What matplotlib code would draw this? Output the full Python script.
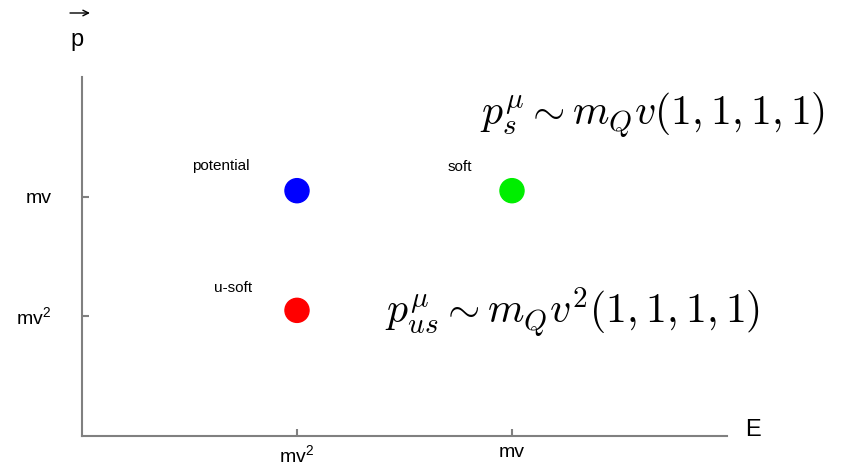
import matplotlib
matplotlib.use("Agg")
import matplotlib.pyplot as plt

# scale positions (arbitrary units, ticks at 1 and 2)
tick_pos = [1, 2]
x_tick_labels = [r"mv$^\mathregular{2}$", "mv"]
y_tick_labels = [r"mv$^\mathregular{2}$", "mv"]

# the three modes
mode_names = ["potential", "soft", "u-soft"]
mode_x = [1.0, 2.0, 1.0]
mode_y = [2.05, 2.05, 1.05]
mode_colors = ["#0000ff", "#00ee00", "#ff0000"]

plt.rcParams["font.family"] = ["Liberation Sans", "DejaVu Sans"]
plt.rcParams["mathtext.fontset"] = "cm"

fig = plt.figure(figsize=(8.44, 4.67), dpi=100)
ax = fig.add_axes([82 / 844, 31 / 467, 645 / 844, 359 / 467])

ax.scatter(mode_x, mode_y, s=300, c=mode_colors, zorder=3)

# name labels above/left of points
ax.text(0.647, 2.256, mode_names[0], fontsize=11, ha="center", va="center")
ax.text(1.758, 2.248, mode_names[1], fontsize=11, ha="center", va="center")
ax.text(0.702, 1.237, mode_names[2], fontsize=11, ha="center", va="center")

# scaling formulas
ax.text(1.851, 2.68, r"$p_s^\mu \sim m_Q v(1,1,1,1)$", fontsize=30,
        ha="left", va="center")
ax.text(1.409, 1.036, r"$p_{us}^\mu \sim m_Q v^2(1,1,1,1)$", fontsize=30,
        ha="left", va="center")

ax.set_xlim(0, 3)
ax.set_ylim(0, 3)
ax.set_xticks(tick_pos)
ax.set_xticklabels(x_tick_labels)
ax.set_yticks(tick_pos)
ax.set_yticklabels(y_tick_labels)

for side in ["top", "right"]:
    ax.spines[side].set_visible(False)
for side in ["left", "bottom"]:
    ax.spines[side].set_color("#808080")
    ax.spines[side].set_linewidth(1.5)

ax.tick_params(axis="both", direction="in", length=5, width=1.5,
               color="#808080", labelsize=14, labelcolor="black")
ax.tick_params(axis="y", pad=22)
ax.tick_params(axis="x", pad=6)

# axis names
fig.text(753 / 844, 1 - 430 / 467, "E", fontsize=17, ha="center", va="center")
fig.text(77 / 844, 1 - 40 / 467, "p", fontsize=17, ha="center", va="center")
ax.annotate("", xy=(90, 467 - 13), xytext=(70, 467 - 13),
            xycoords="figure pixels", textcoords="figure pixels",
            arrowprops=dict(arrowstyle="->", lw=1, color="black",
                            shrinkA=0, shrinkB=0))

fig.savefig("out.png", dpi=100)
